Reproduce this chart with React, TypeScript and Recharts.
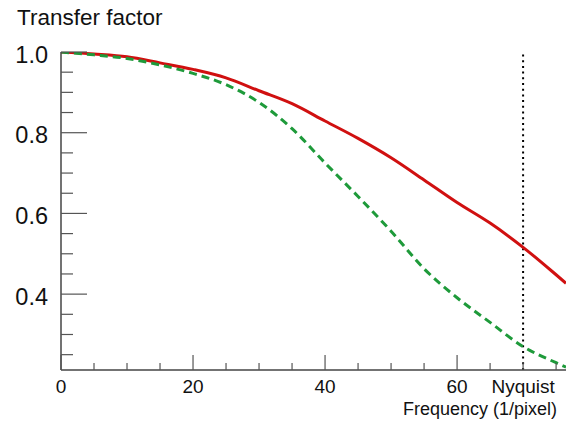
import { LineChart, Line, XAxis, YAxis, ReferenceLine } from 'recharts';

// frequency in 1/pixel
const freq = [0, 5, 10, 15, 20, 25, 30, 35, 40, 45, 50, 55, 60, 65, 70, 75, 76.5];
// solid red curve
const redCurve = [1.0, 0.995, 0.988, 0.973, 0.957, 0.936, 0.904, 0.872, 0.829, 0.786, 0.738, 0.683, 0.627, 0.576, 0.516, 0.448, 0.427];
// dashed green curve
const greenCurve = [1.0, 0.993, 0.984, 0.968, 0.947, 0.919, 0.875, 0.81, 0.725, 0.642, 0.556, 0.463, 0.391, 0.33, 0.27, 0.23, 0.219];

const xTicks = [0, 5, 10, 15, 20, 25, 30, 35, 40, 45, 50, 55, 60, 65, 70, 75];
const xMajor = [0, 20, 40, 60];
const xLabels: Record<number, string> = { 0: '0', 20: '20', 40: '40', 60: '60', 70: 'Nyquist' };
const nyquist = 70;

const yTicks = [0.25, 0.3, 0.35, 0.4, 0.45, 0.5, 0.55, 0.6, 0.65, 0.7, 0.75, 0.8, 0.85, 0.9, 0.95, 1.0];
const yMajor = [0.4, 0.6, 0.8, 1.0];

const data = freq.map((f, i) => ({ f, red: redCurve[i], green: greenCurve[i] }));

const FONT = '"Liberation Sans", Arial, Helvetica, sans-serif';
const RED = '#d01010';
const GREEN = '#1e9a3a';

function XTick({ x, y, payload }: any) {
  const v = payload.value;
  const major = xMajor.includes(v);
  const label = xLabels[v];
  return (
    <g>
      <line x1={x} x2={x} y1={y} y2={y - (major ? 15 : 7)} stroke="#555" strokeWidth={1.2} />
      {label && (
        <text x={x} y={y + 23} textAnchor="middle" fontSize={19} fontFamily={FONT} fill="#111">
          {label}
        </text>
      )}
    </g>
  );
}

function YTick({ x, y, payload }: any) {
  const v = payload.value;
  const major = yMajor.some((m) => Math.abs(m - v) < 1e-6);
  return (
    <g>
      <line x1={x} x2={x + (major ? 26 : 12)} y1={y} y2={y} stroke="#555" strokeWidth={1.2} />
      {major && (
        <text x={x - 13} y={y + 10.5} textAnchor="end" fontSize={23.5} fontFamily={FONT} fill="#111">
          {v.toFixed(1)}
        </text>
      )}
    </g>
  );
}

export default function App() {
  return (
    <div style={{ position: 'absolute', left: 0, top: 0, width: 566, height: 425, background: '#fff' }}>
      <LineChart width={566} height={425} data={data} margin={{ top: 52, right: 0, bottom: 0, left: 0 }}>
        <XAxis
          dataKey="f"
          type="number"
          domain={[0, 76.5]}
          ticks={xTicks}
          interval={0}
          height={55}
          tickSize={0}
          tickMargin={0}
          tickLine={false}
          tick={<XTick />}
          axisLine={{ stroke: '#444', strokeWidth: 1.5 }}
          allowDataOverflow
        />
        <YAxis
          type="number"
          domain={[0.212, 1.0]}
          ticks={yTicks}
          interval={0}
          width={61}
          tickSize={0}
          tickMargin={0}
          tickLine={false}
          tick={<YTick />}
          axisLine={{ stroke: '#444', strokeWidth: 1.5 }}
          allowDataOverflow
        />
        <ReferenceLine x={nyquist} stroke="#000" strokeWidth={2} strokeDasharray="2 3.7" />
        <Line dataKey="red" type="monotone" stroke={RED} strokeWidth={3} dot={false} isAnimationActive={false} />
        <Line
          dataKey="green"
          type="monotone"
          stroke={GREEN}
          strokeWidth={3}
          strokeDasharray="8 5"
          dot={false}
          isAnimationActive={false}
        />
      </LineChart>
      <svg width={566} height={425} style={{ position: 'absolute', left: 0, top: 0, pointerEvents: 'none' }}>
        <text x={17} y={25} fontSize={22.5} fontFamily={FONT} fill="#111">
          Transfer factor
        </text>
        <text x={557} y={415} textAnchor="end" fontSize={18} fontFamily={FONT} fill="#111">
          Frequency (1/pixel)
        </text>
      </svg>
    </div>
  );
}
